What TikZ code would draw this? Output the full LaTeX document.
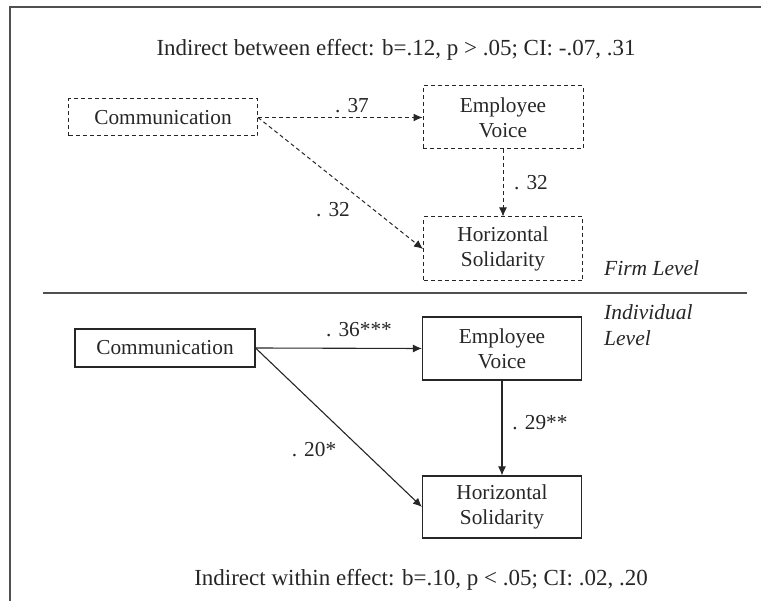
\documentclass[tikz,border=0pt]{standalone}
\usepackage{fontspec}
\setmainfont{Liberation Serif}
\usetikzlibrary{arrows.meta}
\definecolor{ink}{HTML}{262626}
\definecolor{frame}{HTML}{505050}
\begin{document}
\begin{tikzpicture}[x=1pt,y=-1pt,
  every node/.style={font=\fontsize{21.3}{25}\selectfont, text=ink, inner sep=0pt},
  box/.style={draw=ink, line width=1.1pt, align=center},
  dbox/.style={box, line width=1pt, dash pattern=on 4pt off 3pt},
  conn/.style={draw=ink, line width=1.1pt, -{Latex[length=9pt,width=8pt]}},
  dconn/.style={conn, line width=1pt, dash pattern=on 4pt off 3pt},
  lbl/.style={},
  ttl/.style={font=\fontsize{23}{27}\selectfont},
  lvl/.style={font=\fontsize{21.5}{26}\selectfont\itshape, align=left, anchor=west}
]
\useasboundingbox (0,0) rectangle (761,601);
% frame
\draw[frame, line width=1.4pt] (761,7) -- (10,7) -- (10,601);
\draw[frame, line width=1.4pt] (43,293) -- (747,293);

% firm level
\node[ttl] (t1) at (396,50) {Indirect between effect: b=.12, p > .05; CI: -.07, .31};
\node[dbox, minimum width=189pt, minimum height=37pt] (c1) at (163,117.5) {Communication};
\node[dbox, minimum width=160pt, minimum height=63pt] (e1) at (503,117.5) {Employee\\Voice};
\node[dbox, minimum width=159pt, minimum height=64pt] (h1) at (503,249) {Horizontal\\Solidarity};
\draw[dconn] (c1.east) -- (e1.west);
\draw[dconn] (c1.east) -- (h1.west);
\draw[dconn] (e1.south) -- (h1.north);
\node[lbl] (l1) at (352,106) {. 37};
\node[lbl] (l2) at (333,210) {. 32};
\node[lbl] (l3) at (531,183) {. 32};
\node[lvl] (fl) at (604,268) {Firm Level};

% individual level
\node[lvl] (il) at (604,325) {Individual\\Level};
\node[box, minimum width=180pt, minimum height=38pt] (c2) at (165,348) {Communication};
\node[box, minimum width=159pt, minimum height=63pt] (e2) at (502,348.5) {Employee\\Voice};
\node[box, minimum width=159pt, minimum height=62pt] (h2) at (502,507) {Horizontal\\Solidarity};
\draw[conn] (c2.east) -- (e2.west);
\draw[conn] (c2.east) -- (h2.west);
\draw[conn] (e2.south) -- (h2.north);
\node[lbl] (l4) at (359,330) {. 36***};
\node[lbl] (l5) at (314,450) {. 20*};
\node[lbl] (l6) at (540,423) {. 29**};
\node[ttl] (t2) at (421,580) {Indirect within effect: b=.10, p < .05; CI: .02, .20};
\end{tikzpicture}
\end{document}
